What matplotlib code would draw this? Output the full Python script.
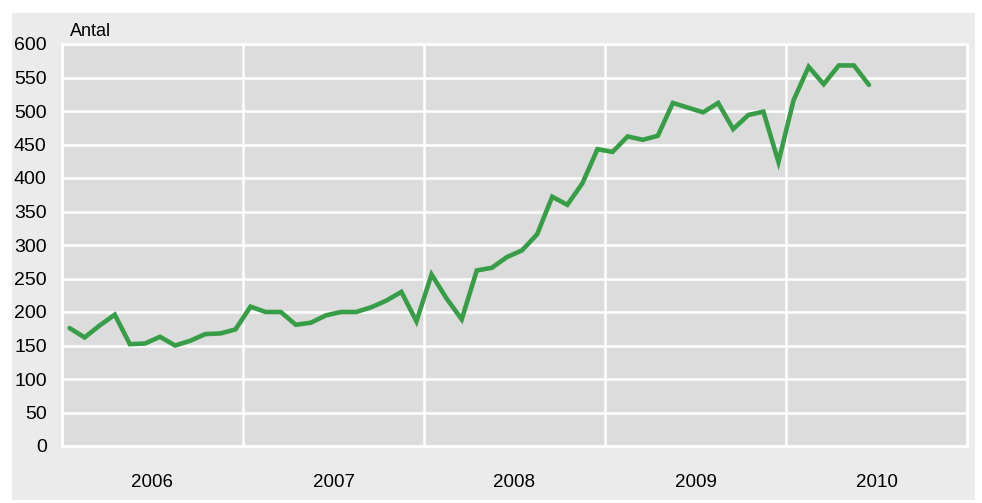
import numpy as np
import matplotlib.pyplot as plt
from matplotlib.patches import Rectangle

plt.rcParams['font.family'] = ['Liberation Sans', 'DejaVu Sans']

years = ['2006', '2007', '2008', '2009', '2010']
# monthly values, Jan 2006 - Jun 2010
antal = [176, 162, 180, 196, 152, 153, 163, 150, 157, 167, 168, 174,
         208, 200, 200, 181, 184, 195, 200, 200, 207, 217, 230, 186,
         256, 220, 189, 262, 266, 282, 292, 316, 372, 360, 392, 443,
         439, 462, 457, 463, 512, 505, 498, 512, 473, 494, 499, 424,
         516, 566, 540, 568, 568, 539]
yticks = [0, 50, 100, 150, 200, 250, 300, 350, 400, 450, 500, 550, 600]

fig = plt.figure(figsize=(9.82, 5.03), dpi=100)
fig.patch.set_facecolor('white')
# grey frame behind everything
bg = Rectangle((12 / 982, 3 / 503), 963 / 982, 487 / 503,
               transform=fig.transFigure, facecolor='#ebebeb',
               edgecolor='none', zorder=-10)
fig.add_artist(bg)

ax = fig.add_axes([62 / 982, 57 / 503, 905 / 982, 402 / 503])
ax.set_facecolor('#dcdcdc')

x = np.arange(len(antal)) + 0.5
ax.plot(x, antal, color='#379e47', lw=3.3, solid_joinstyle='miter',
        solid_capstyle='round', zorder=3)

ax.set_xlim(0, 12 * len(years))
ax.set_ylim(0, 600)
ax.set_yticks(yticks)
ax.set_yticklabels([str(v) for v in yticks], fontsize=14)
ax.set_xticks([12 * i for i in range(1, len(years))])
ax.set_xticklabels([])
ax.set_xticks([12 * i + 6 for i in range(len(years))], minor=True)
ax.set_xticklabels(years, minor=True, fontsize=13.5)
ax.tick_params(axis='both', which='both', length=0)
ax.tick_params(axis='x', which='minor', pad=20)
ax.tick_params(axis='y', pad=11)
ax.grid(True, which='major', color='white', lw=1.8)
ax.set_axisbelow(True)
for s in ax.spines.values():
    s.set_color('white')
    s.set_linewidth(2)

fig.text(70 / 982, 1 - 31 / 503, 'Antal', fontsize=13, va='center', ha='left')

plt.savefig('out.png', dpi=100)
